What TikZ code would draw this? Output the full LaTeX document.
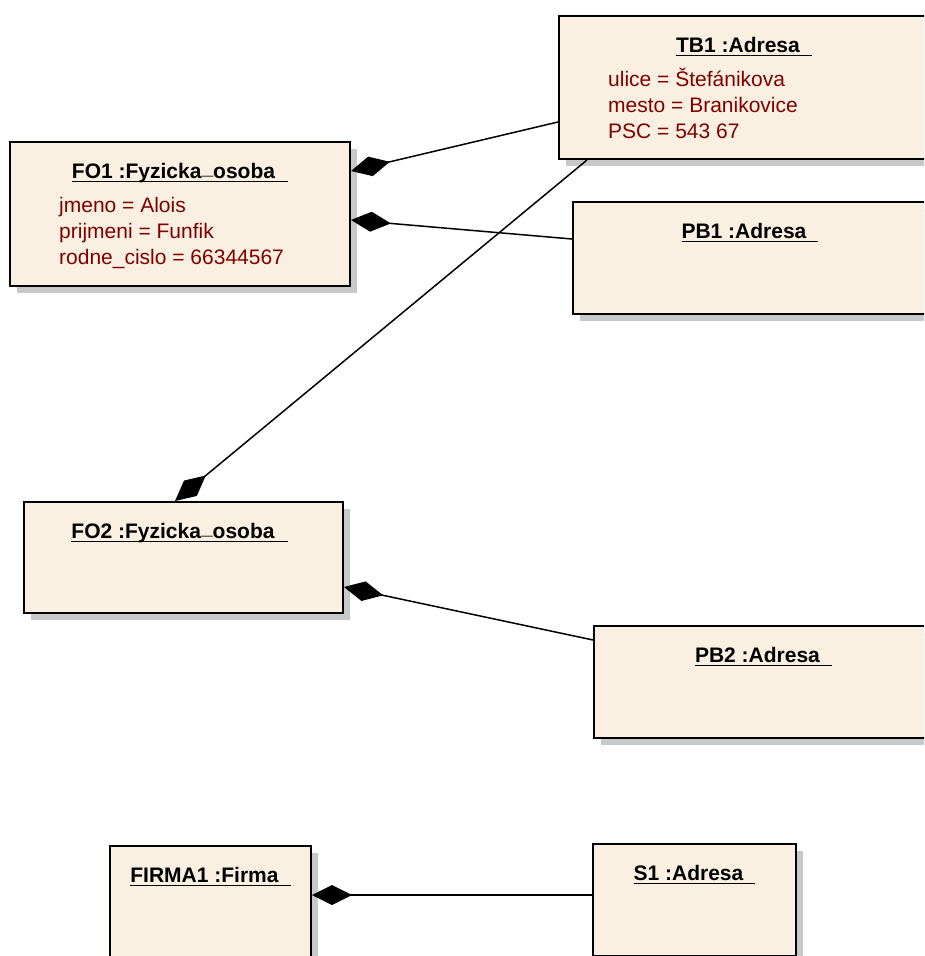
\documentclass[tikz,border=0pt]{standalone}
\usepackage{fontspec}
\setmainfont{Liberation Sans}
\usetikzlibrary{arrows.meta,shadows}
\definecolor{objfill}{RGB}{250,240,226}
\definecolor{attrred}{RGB}{128,0,0}
\definecolor{shadowgray}{RGB}{200,200,200}
% underlined object name: a rule a little below the baseline, as wide as the text
\newcommand\ultext[1]{\setbox0=\hbox{#1}\rlap{\vrule height -2.6pt depth 4.1pt width \wd0}\box0}
% underscore sitting on the baseline, clear of the underline
\newcommand\usc{\raisebox{3.4pt}{\_}}

\begin{document}
\begin{tikzpicture}[x=1pt,y=-1pt,
  objbox/.style={draw=black, line width=2pt, fill=objfill, anchor=north west,
    inner sep=0pt,
    drop shadow={shadow xshift=7pt, shadow yshift=-7pt, fill=shadowgray, opacity=1}},
  objname/.style={anchor=base, inner sep=0pt, font=\fontsize{21}{26}\selectfont\bfseries},
  objattr/.style={anchor=base west, inner sep=0pt, align=left, text=attrred,
    font=\fontsize{21}{26}\selectfont},
  comp/.style={line width=1.5pt, {Diamond[length=40pt,width=20pt]}-}
]
\useasboundingbox (0,0) rectangle (924,956);
\fill[white] (0,0) rectangle (924,956);
\clip (0,0) rectangle (924,956);

% objects (attribute blocks are anchored at the baseline of their last line)
\node[objbox, minimum width=370pt, minimum height=143pt] (tb1) at (558,15) {};
\node[objname] (tb1t) at ([yshift=-37pt]tb1.north) {\ultext{TB1 :Adresa\hspace{12pt}}};
\node[objattr] (tb1a) at ([xshift=50pt,yshift=-123pt]tb1.north west)
  {ulice = Štefánikova\\mesto = Branikovice\\PSC = 543 67};

\node[objbox, minimum width=340pt, minimum height=144pt] (fo1) at (9,141) {};
\node[objname] (fo1t) at ([yshift=-37pt]fo1.north) {\ultext{FO1 :Fyzicka\usc osoba\hspace{13pt}}};
\node[objattr] (fo1a) at ([xshift=50pt,yshift=-123pt]fo1.north west)
  {jmeno = Alois\\prijmeni = Funfik\\rodne\_cislo = 66344567};

\node[objbox, minimum width=354pt, minimum height=112pt] (pb1) at (572,201) {};
\node[objname] (pb1t) at ([yshift=-37pt]pb1.north) {\ultext{PB1 :Adresa\hspace{12pt}}};

\node[objbox, minimum width=319pt, minimum height=111pt] (fo2) at (23,501) {};
\node[objname] (fo2t) at ([xshift=-4pt,yshift=-37pt]fo2.north) {\ultext{FO2 :Fyzicka\usc osoba\hspace{13pt}}};

\node[objbox, minimum width=339pt, minimum height=112pt] (pb2) at (593,625) {};
\node[objname] (pb2t) at ([yshift=-37pt]pb2.north) {\ultext{PB2 :Adresa\hspace{12pt}}};

\node[objbox, minimum width=201pt, minimum height=130pt] (firma1) at (109,845) {};
\node[objname] (firma1t) at ([yshift=-37pt]firma1.north) {\ultext{FIRMA1 :Firma\hspace{12pt}}};

\node[objbox, minimum width=203pt, minimum height=112pt] (s1) at (592,843) {};
\node[objname] (s1t) at ([yshift=-37pt]s1.north) {\ultext{S1 :Adresa\hspace{12pt}}};

% composition links
\draw[comp] ([yshift=-30pt]fo1.north east) -- ([yshift=-107pt]tb1.north west);
\draw[comp] ([yshift=-79pt]fo1.north east) -- ([yshift=-38pt]pb1.north west);
\draw[comp] ([xshift=152pt]fo2.north west) -- ([xshift=29pt]tb1.south west);
\draw[comp] ([yshift=-86pt]fo2.north east) -- ([yshift=-15pt]pb2.north west);
\draw[comp] ([yshift=-50pt]firma1.north east) -- ([yshift=-52pt]s1.north west);
\end{tikzpicture}
\end{document}
